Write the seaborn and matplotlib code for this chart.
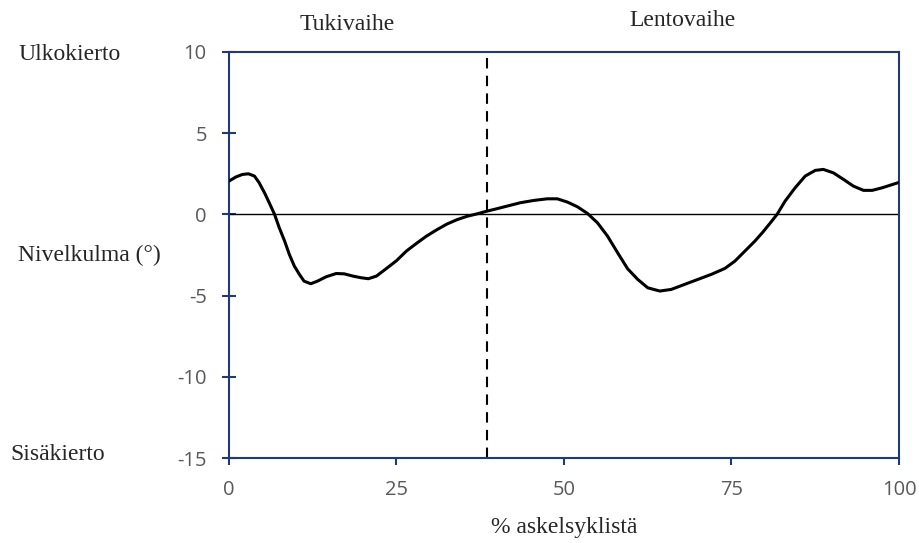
import matplotlib
matplotlib.use("Agg")
import matplotlib.pyplot as plt
import seaborn as sns
import pandas as pd

# Data
pct_cycle = [0.0, 1.0, 2.0, 2.9, 3.8, 4.5, 5.3, 6.0, 6.8, 7.5, 8.3, 9.0, 9.75,
             10.5, 11.2, 12.2, 13.2, 14.5, 16.0, 17.2, 18.5, 19.7, 20.8, 22.0,
             23.5, 25.0, 26.5, 28.0, 29.5, 31.0, 32.5, 34.0, 35.5, 37.0, 38.5,
             39.7, 41.5, 43.5, 45.5, 47.5, 49.0, 50.5, 52.0, 53.5, 55.0, 56.5,
             58.0, 59.5, 61.0, 62.5, 64.3, 66.0, 68.0, 70.0, 72.0, 74.0, 75.5,
             77.0, 78.5, 79.7, 80.8, 81.8, 83.0, 84.5, 86.0, 87.5, 88.7, 90.2,
             91.7, 93.2, 94.7, 96.0, 97.5, 100.0]
joint_angle = [2.05, 2.30, 2.46, 2.50, 2.36, 1.95, 1.33, 0.72, 0.0, -0.82,
               -1.64, -2.46, -3.18, -3.69, -4.11, -4.27, -4.11, -3.84, -3.64,
               -3.66, -3.80, -3.90, -3.96, -3.80, -3.33, -2.85, -2.25, -1.78,
               -1.33, -0.95, -0.60, -0.33, -0.12, 0.03, 0.20, 0.32, 0.51, 0.72,
               0.86, 0.96, 0.96, 0.76, 0.47, 0.06, -0.52, -1.34, -2.36, -3.35,
               -4.00, -4.52, -4.72, -4.62, -4.31, -4.00, -3.69, -3.33, -2.88,
               -2.26, -1.64, -1.08, -0.52, 0.0, 0.82, 1.64, 2.36, 2.71, 2.77,
               2.56, 2.16, 1.74, 1.48, 1.48, 1.64, 1.97]
x_ticks = [0, 25, 50, 75, 100]
y_ticks = [-15, -10, -5, 0, 5, 10]
phase_boundary = 38.5
phase_labels = ["Tukivaihe", "Lentovaihe"]
side_labels = ["Ulkokierto", "Nivelkulma (°)", "Sisäkierto"]
x_label = "% askelsyklistä"

sns.set_style("white")
plt.rcParams['font.family'] = ['Liberation Serif', 'DejaVu Serif']
plt.rcParams['axes.unicode_minus'] = False

navy = "#1f3a75"
fig = plt.figure(figsize=(9.2, 5.43), dpi=100)
ax = fig.add_axes([229 / 920, 1 - 458 / 543, 670 / 920, 406 / 543])

df = pd.DataFrame({"x": pct_cycle, "y": joint_angle})
ax.axhline(0, color="black", lw=1.0, zorder=1)
ax.axvline(phase_boundary, ymin=0, ymax=0.985, color="black", lw=1.5,
           ls=(0, (5, 3.5)), zorder=2)
sns.lineplot(data=df, x="x", y="y", ax=ax, color="black", lw=2.2, zorder=3)
for ln in ax.get_lines():
    ln.set_solid_joinstyle("round")
    ln.set_solid_capstyle("round")

ax.set_xlim(0, 100)
ax.set_ylim(-15, 10)
ax.set_xticks(x_ticks)
ax.set_yticks(y_ticks)
ax.set_xlabel("")
ax.set_ylabel("")

for s in ax.spines.values():
    s.set_visible(True)
    s.set_color(navy)
    s.set_linewidth(1.5)

ax.tick_params(axis="y", direction="inout", length=10, width=1.5, color=navy,
               pad=11, labelsize=14.5, labelcolor="#595959", left=True)
ax.tick_params(axis="x", direction="out", length=5, width=1.5, color=navy,
               pad=11, labelsize=14.5, labelcolor="#595959", bottom=True)
for lab in ax.get_xticklabels() + ax.get_yticklabels():
    lab.set_fontfamily(["Open Sans", "DejaVu Sans"])

# Phase labels above the plot
fig.text(347 / 920, 1 - 24 / 543, phase_labels[0], ha="center", va="center", fontsize=17)
fig.text(682 / 920, 1 - 21 / 543, phase_labels[1], ha="center", va="center", fontsize=17)

# Side labels
fig.text(18 / 920, 1 - 54 / 543, side_labels[0], ha="left", va="center", fontsize=17)
fig.text(18 / 920, 1 - 255 / 543, side_labels[1], ha="left", va="center", fontsize=17)
fig.text(10 / 920, 1 - 455 / 543, side_labels[2], ha="left", va="center", fontsize=17)

fig.text(564 / 920, 1 - 527 / 543, x_label, ha="center", va="center", fontsize=17)

fig.savefig("out.png", dpi=100)
